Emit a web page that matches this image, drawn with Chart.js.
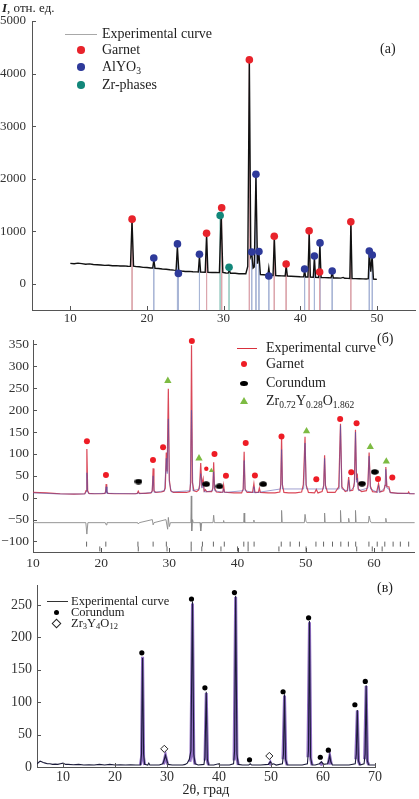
<!DOCTYPE html>
<html><head><meta charset="utf-8">
<script src="https://cdn.jsdelivr.net/npm/chart.js@4.4.0/dist/chart.umd.min.js"></script>
<style>
html,body{margin:0;padding:0;background:#fff;}
#wrap{position:relative;width:419px;height:799px;overflow:hidden;font-family:"Liberation Serif","Times New Roman",serif;color:#222;}
canvas{position:absolute;left:0;}
.t{position:absolute;white-space:nowrap;line-height:16px;font-size:14px;}
.s{line-height:12px;font-size:12.5px;}
.ln{position:absolute;height:0;}
.mk{position:absolute;}
sub{font-size:68%;vertical-align:-0.28em;line-height:0;}
</style></head><body>
<div id="wrap">
<canvas id="ca" width="419" height="330" style="top:0"></canvas>
<canvas id="cb" width="419" height="244" style="top:328px"></canvas>
<canvas id="cc" width="419" height="227" style="top:572px"></canvas>

<div class="t" style="left:2px;top:0px;font-size:13px;"><i><b>I</b></i>, отн. ед.</div>
<div class="ln" style="left:65px;top:34px;width:32px;border-top:1.5px solid #a8a8a8;"></div>
<div class="t" style="left:102px;top:26px;">Experimental curve</div>
<div class="mk" style="left:77px;top:46px;width:7.5px;height:7.5px;border-radius:50%;background:#e8232b;"></div>
<div class="t" style="left:102px;top:42px;">Garnet</div>
<div class="mk" style="left:77px;top:63px;width:7.5px;height:7.5px;border-radius:50%;background:#2e3a9a;"></div>
<div class="t" style="left:102px;top:59px;">AlYO<sub>3</sub></div>
<div class="mk" style="left:77px;top:81px;width:7.5px;height:7.5px;border-radius:50%;background:#12877a;"></div>
<div class="t" style="left:102px;top:77px;">Zr-phases</div>
<div class="t" style="left:380px;top:41px;">(a)</div>

<div class="ln" style="left:237px;top:348px;width:20px;border-top:1.5px solid #d8303c;"></div>
<div class="t" style="left:266px;top:340px;">Experimental curve</div>
<div class="mk" style="left:241px;top:361px;width:6px;height:6px;border-radius:50%;background:#ee1c25;"></div>
<div class="t" style="left:266px;top:356px;">Garnet</div>
<div class="mk" style="left:240px;top:380.5px;width:8px;height:5.5px;border-radius:50%;background:#000;"></div>
<div class="t" style="left:266px;top:375px;">Corundum</div>
<div class="mk" style="left:240px;top:397px;width:0;height:0;border-left:4px solid transparent;border-right:4px solid transparent;border-bottom:7px solid #7dbb42;"></div>
<div class="t" style="left:266px;top:393px;">Zr<sub>0.72</sub>Y<sub>0.28</sub>O<sub>1.862</sub></div>
<div class="t" style="left:377px;top:331px;">(б)</div>

<div class="ln" style="left:47px;top:601px;width:21px;border-top:1.5px solid #333;"></div>
<div class="t s" style="left:71px;top:595px;">Experimental curve</div>
<div class="mk" style="left:53.5px;top:609.5px;width:5px;height:5px;border-radius:50%;background:#000;"></div>
<div class="t s" style="left:71px;top:606px;">Corundum</div>
<div class="mk" style="left:53px;top:620px;width:5px;height:5px;border:1px solid #222;transform:rotate(45deg);background:#fff;"></div>
<div class="t s" style="left:71px;top:617px;">Zr<sub>3</sub>Y<sub>4</sub>O<sub>12</sub></div>
<div class="t" style="left:377px;top:580px;">(в)</div>
</div>
<script>
const FONT='"Liberation Serif","Times New Roman",serif';

// ---------- Panel (a) ----------
const xTicksA=[10,20,30,40,50];
const yTicksA=[0,1000,2000,3000,4000,5000];
const expA=[[10,388],[10.5,380],[11,392],[11.5,383],[12,372],[12.5,378],[13,365],[13.5,360],[14,356],[14.5,350],[15,352],[15.5,343],[16,345],[16.5,338],[17,340],[17.5,332],[17.85,330],[18.05,1205],[18.25,335],[18.6,325],[19,322],[19.5,312],[20,308],[20.5,300],[20.75,298],[20.9,455],[21.05,292],[21.5,290],[22,280],[22.5,275],[23,265],[23.5,258],[23.8,255],[23.97,710],[24.15,250],[24.5,242],[25,233],[25.5,235],[26,228],[26.5,225],[26.7,222],[26.85,520],[27.0,222],[27.6,218],[27.78,930],[27.95,218],[28.5,215],[29,216],[29.45,212],[29.68,1310],[29.9,215],[30.3,205],[30.6,202],[30.75,255],[30.9,200],[31.5,198],[32,190],[32.5,192],[32.9,190],[33.15,330],[33.36,4230],[33.55,520],[33.68,570],[33.85,300],[34.0,320],[34.22,2050],[34.42,380],[34.6,590],[34.8,175],[35.2,170],[35.6,165],[35.78,160],[35.9,300],[36.02,160],[36.45,158],[36.62,870],[36.8,155],[37.2,152],[37.6,150],[38.03,147],[38.17,340],[38.32,145],[38.8,142],[39.4,138],[40,132],[40.45,130],[40.57,260],[40.7,128],[41.0,127],[41.17,960],[41.32,126],[41.7,124],[41.85,500],[42.0,122],[42.4,120],[42.56,740],[42.72,118],[43.2,116],[43.7,114],[44.02,112],[44.17,215],[44.32,110],[44.8,108],[45.3,106],[45.6,120],[45.8,104],[46.2,102],[46.47,100],[46.61,1160],[46.76,100],[47.2,97],[47.7,95],[48.2,92],[48.6,90],[48.88,95],[49.01,610],[49.2,230],[49.38,530],[49.55,90],[49.8,86],[50,82]];
const garnetA=[[18.06,1229],[27.78,962],[29.75,1446],[33.36,4261],[36.61,904],[38.16,376],[41.16,1006],[42.53,223],[46.6,1178]];
const alyoA=[[20.89,490],[23.98,758],[24.1,197],[26.85,560],[33.67,605],[34.22,2083],[34.61,611],[35.9,146],[40.57,280],[41.85,529],[42.58,777],[44.17,242],[49.01,624],[49.4,548]];
const zrA=[[29.55,1299],[30.71,312]];

// ---------- Panel (б) ----------
const xTicksB=[10,20,30,40,50,60];
const yTicksB=[-100,-50,0,50,100,150,200,250,300,350];
const expB=[[10,12],[11,11.5],[12,11],[13,10],[14,9],[15,8.5],[16,8],[17,8.5],[17.6,9],[17.78,16],[17.9,111],[18.02,16],[18.2,10],[19,9],[20,9],[20.55,10],[20.65,14],[20.73,31],[20.82,14],[21,10],[22,9],[23,9],[24,9],[25,9],[25.3,10],[25.44,15],[25.58,10],[26.5,10],[27.3,11],[27.5,16],[27.62,67],[27.74,16],[28,12],[28.8,13],[29.2,15],[29.4,22],[29.55,103],[29.68,60],[29.85,249],[30.0,40],[30.2,16],[30.6,12],[31.5,12],[32.5,12],[33.0,14],[33.13,35],[33.25,348],[33.38,35],[33.6,16],[34.0,14],[34.3,18],[34.45,30],[34.6,79],[34.75,30],[34.95,43],[35.1,15],[35.3,18],[35.45,14],[36.2,14],[36.38,22],[36.5,81],[36.62,22],[36.9,13],[37.5,12],[37.85,13],[37.96,28],[38.08,13],[38.5,12],[39.5,11],[40.6,11],[40.83,20],[40.97,105],[41.1,20],[41.4,12],[42.2,12],[42.4,32],[42.55,12],[43.05,12],[43.2,22],[43.35,12],[44.5,11],[45.5,11],[46.2,13],[46.34,30],[46.46,140],[46.58,30],[46.8,12],[47.5,11],[48.5,11],[49.4,13],[49.65,30],[49.9,139],[50.05,30],[50.4,12],[51.3,11],[51.55,19],[51.8,11],[52.4,14],[52.64,28],[52.77,97],[52.9,28],[53.2,12],[54.3,12],[54.85,25],[55.1,169],[55.3,25],[55.8,14],[56.1,16],[56.3,47],[56.5,16],[56.9,17],[57.15,35],[57.3,155],[57.45,40],[57.56,55],[57.7,20],[58.2,14],[58.9,16],[59.12,30],[59.3,103],[59.48,26],[59.8,14],[60.4,13],[60.68,32],[60.9,13],[61.45,16],[61.63,28],[61.75,70],[61.9,25],[62.2,25],[62.4,12],[63.5,10],[64.5,10],[65.0,10],[65.1,13],[65.25,9],[66,9]];
const calcB=[[10,11],[14,8.5],[17.6,8.5],[17.8,14],[17.9,57],[18.0,14],[18.2,9],[20.6,10],[20.73,25],[20.85,10],[25.3,9],[25.44,12],[25.58,9],[27.45,12],[27.62,50],[27.78,12],[29.3,16],[29.55,90],[29.68,55],[29.85,180],[30.0,35],[30.3,13],[33.05,16],[33.25,200],[33.45,16],[34.4,20],[34.6,55],[34.8,22],[34.95,35],[35.15,13],[36.35,16],[36.5,60],[36.65,16],[37.85,12],[37.96,20],[38.1,12],[40.83,16],[40.97,85],[41.12,16],[42.28,12],[42.4,25],[42.53,11],[46.32,20],[46.46,110],[46.6,20],[49.7,20],[49.9,125],[50.1,20],[52.62,20],[52.77,90],[52.92,20],[54.9,20],[55.1,165],[55.3,20],[56.15,15],[56.3,40],[56.45,15],[57.12,25],[57.3,150],[57.48,35],[57.56,45],[57.75,16],[59.12,22],[59.3,95],[59.5,20],[60.55,12],[60.68,28],[60.82,12],[61.6,22],[61.75,65],[61.92,22],[62.2,20],[62.4,11],[66,9]];
const diffB=[[10,-57],[17.75,-57],[17.9,-83],[18.05,-57],[20.6,-57],[20.73,-62],[20.85,-57],[25.35,-57],[25.44,-60],[25.6,-57],[27.5,-50],[27.62,-62],[27.75,-57],[29.5,-50],[29.75,-72],[29.85,-45],[30.0,-66],[30.15,-57],[33.15,-57],[33.22,4],[33.28,-76],[33.4,-50],[33.5,-57],[34.5,-57],[34.6,-76],[34.75,-57],[36.4,-57],[36.5,-40],[36.6,-57],[37.9,-57],[37.96,-52],[38.02,-57],[40.9,-57],[40.97,-35],[41.05,-57],[42.35,-57],[42.4,-51],[42.45,-57],[46.4,-57],[46.46,-29],[46.55,-57],[49.8,-57],[49.9,-38],[50.05,-55],[50.2,-57],[52.7,-57],[52.77,-35],[52.85,-57],[55.05,-57],[55.1,-29],[55.2,-57],[56.25,-57],[56.3,-47],[56.4,-57],[57.25,-57],[57.3,-29],[57.4,-57],[59.2,-57],[59.3,-42],[59.45,-52],[59.6,-57],[61.7,-57],[61.75,-47],[61.85,-57],[66,-57]];
const braggB1=[17.86,20.68,25.39,27.62,29.56,33.2,34.85,36.46,38.06,40.92,41.55,42.43,46.41,47.72,49.08,51.5,52.62,53.93,55.15,56.26,57.33,59.27,60.49,61.6,62.82,63.88,65.1];
const braggB2=[19.8,25.44,29.66,33.2,34.76,37.57,40.0,41.55,46.07,50.05,57.48,59.76,61.21];
const garnetB=[[17.91,129],[20.7,52],[27.6,86],[29.08,115],[33.3,358],[36.62,100],[38.3,50],[41.2,125],[42.55,51],[46.45,140],[51.55,42],[55.05,180],[56.68,58],[57.46,170],[60.6,43],[62.7,46]];
const garnetBSmall=[[35.42,66]];
const corB=[[25.47,37],[35.4,31],[37.35,26],[43.76,31],[58.25,32],[60.12,59]];
const zrB=[[29.78,267],[34.35,90],[50.12,152],[59.47,116],[61.82,83]];
const zrBSmall=[[36.16,62]];

// ---------- Panel (в) ----------
const xTicksC=[10,20,30,40,50,60,70];
const yTicksC=[0,50,100,150,200,250];
const expC=[[5,5],[5.3,7],[5.6,9],[5.9,8],[6.2,7],[6.6,6],[7,5],[7.5,5],[8,4],[8.5,4.5],[9,4],[9.5,5],[10,6],[10.5,4],[11,4],[12,3.5],[13,4],[14,3],[15,3.5],[16,3],[17,4],[18,3],[19,4],[20,3],[21,3.5],[22,3],[23,3.5],[24,3],[24.9,3],[25.1,20],[25.3,168],[25.5,20],[25.7,4],[26.3,3],[26.5,6],[26.7,3],[27.5,3],[28.5,3],[29.2,5],[29.5,12],[29.7,18],[29.9,12],[30.2,4],[31,3],[32,3],[33,3],[33.5,4],[33.9,6],[34.3,12],[34.6,25],[34.9,255],[35.15,20],[35.4,5],[36,3],[37.1,4],[37.3,15],[37.55,116],[37.75,12],[38,3],[39,3],[39.9,5],[40.1,3],[41,3],[42,3],[42.8,5],[43.0,25],[43.2,264],[43.45,20],[43.7,4],[44.5,3],[45.7,3],[46.0,5],[46.3,3],[47,3],[48,3],[49.5,4],[49.87,8],[50.2,4],[50.5,5],[51,3],[52.2,5],[52.4,20],[52.6,112],[52.8,12],[53.1,3],[54,3],[55,3],[56,3],[57.0,5],[57.2,25],[57.4,225],[57.6,15],[57.9,3],[58.5,3],[59.3,5],[59.7,8],[60.1,4],[60.9,5],[61.1,10],[61.3,18],[61.5,8],[61.8,3],[63,3],[64,3],[65,3],[66.2,5],[66.4,20],[66.6,88],[66.8,10],[67.1,3],[67.9,5],[68.1,20],[68.3,126],[68.5,10],[68.8,3],[70,3]];
const fitC=[
 [[24.9,3],[25.1,15],[25.3,170],[25.5,15],[25.7,3]],
 [[29.3,4],[29.7,18],[30.1,4]],
 [[34.4,8],[34.6,18],[34.9,252],[35.15,15],[35.4,4]],
 [[37.3,10],[37.55,114],[37.8,8],[38,3]],
 [[42.9,10],[43.2,262],[43.45,15],[43.7,3]],
 [[49.6,3],[49.87,7],[50.1,3]],
 [[52.3,12],[52.6,110],[52.85,10],[53.1,3]],
 [[57.1,15],[57.4,223],[57.65,12],[57.9,3]],
 [[59.4,3],[59.7,6],[60.0,3]],
 [[61.0,4],[61.3,17],[61.6,4]],
 [[66.3,12],[66.6,87],[66.85,8],[67.1,3]],
 [[68.0,12],[68.3,125],[68.55,8],[68.8,3]]
];
const corC=[[25.16,176],[34.71,259],[37.29,122],[42.97,269],[45.87,11],[52.32,116],[57.23,230],[59.48,15],[61.03,26],[66.13,96],[68.13,132]];
const zrC=[[29.48,28],[49.68,17]];

// ---------- helpers ----------
const P=a=>a.map(([x,y])=>({x,y}));
function sticks(arr,bottom){const o=[];arr.forEach(([x,y])=>{o.push({x,y},{x,y:bottom},{x,y:null});});return o;}
function groups(g){const o=[];g.forEach(grp=>{grp.forEach(([x,y])=>o.push({x,y}));o.push({x:grp[grp.length-1][0]+0.01,y:null});});return o;}
function bragg(xs,y){return xs.map(x=>({x,y}));}
const fmt=v=>v<0?'\u2212'+Math.abs(v):String(v);
function line(data,color,w,order){return {data,showLine:true,borderColor:color,borderWidth:w,pointRadius:0,tension:0,spanGaps:false,order};}
function pts(data,color,r,style,order,extra){return Object.assign({data,showLine:false,pointRadius:r,pointHoverRadius:r,pointStyle:style||'circle',backgroundColor:color,borderColor:color,borderWidth:0,clip:false,order},extra||{});}

const inTicks={id:'inTicks',afterDraw(chart,args,opts){
  const ctx=chart.ctx,a=chart.chartArea,len=opts.len||4;
  ctx.save();ctx.strokeStyle='#555';ctx.lineWidth=1;
  const ys=chart.scales.y,xs=chart.scales.x;
  ys.ticks.forEach(t=>{const p=Math.round(ys.getPixelForValue(t.value))+0.5;ctx.beginPath();ctx.moveTo(a.left,p);ctx.lineTo(a.left+len,p);ctx.stroke();});
  xs.ticks.forEach(t=>{const p=Math.round(xs.getPixelForValue(t.value))+0.5;ctx.beginPath();ctx.moveTo(p,a.bottom);ctx.lineTo(p,a.bottom-len);ctx.stroke();});
  ctx.restore();}};

function scales(o){
  return {
    x:{type:'linear',min:o.xmin,max:o.xmax,grid:{display:false,drawTicks:false},border:{display:true,color:'#555',width:1},
       ticks:{color:'#333',font:{family:FONT,size:o.fs},padding:o.xpad,maxRotation:0,autoSkip:false,callback:fmt},
       afterBuildTicks:s=>{s.ticks=o.xt.map(v=>({value:v}));},
       afterFit:s=>{s.height=o.xh;},
       title:o.title?{display:true,text:o.title,color:'#222',font:{family:FONT,size:14},padding:0}:{display:false}},
    y:{type:'linear',min:o.ymin,max:o.ymax,grid:{display:false,drawTicks:false},border:{display:true,color:'#555',width:1},
       ticks:{color:'#333',font:{family:FONT,size:o.fs},padding:o.ypad,autoSkip:false,callback:fmt},
       afterBuildTicks:s=>{s.ticks=o.yt.map(v=>({value:v}));},
       afterFit:s=>{s.width=o.yw;}}
  };
}
function base(pad){return {responsive:false,animation:false,devicePixelRatio:1,events:[],
  layout:{padding:pad},plugins:{legend:{display:false},tooltip:{enabled:false},inTicks:{len:4}}};}

// ellipse marker for corundum (б)
const ell=document.createElement('canvas');ell.width=8;ell.height=6;
(function(){const c=ell.getContext('2d');c.fillStyle='#000';c.beginPath();c.ellipse(4,3,3.8,2.8,0,0,Math.PI*2);c.fill();})();

// Chart (a)
new Chart(document.getElementById('ca'),{type:'scatter',
 data:{datasets:[
  line(sticks(garnetA,-500),'#dca6ad',1,5),
  line(sticks(alyoA,-500),'#a9b6d6',1,5),
  line(sticks(zrA,-500),'#9fcfc6',1,5),
  line(P(expA),'#111',1.4,4),
  pts(P(garnetA),'#e8232b',3.8,'circle',1),
  pts(P(alyoA),'#2e3a9a',3.8,'circle',1),
  pts(P(zrA),'#12877a',3.8,'circle',1)
 ]},
 options:Object.assign(base({top:21,left:0,right:0,bottom:0}),{scales:scales({xmin:5,xmax:55,ymin:-500,ymax:5000,xt:xTicksA,yt:yTicksA,fs:13,xpad:1,ypad:6,xh:20,yw:32})}),
 plugins:[inTicks]});

// Chart (б)
new Chart(document.getElementById('cb'),{type:'scatter',
 data:{datasets:[
  line(P(diffB),'#8a8a8a',0.9,6),
  pts(bragg(braggB1,-106),'#666',2.5,'line',6,{rotation:90,borderWidth:1}),
  pts(bragg(braggB2,-117),'#666',2.5,'line',6,{rotation:90,borderWidth:1}),
  line(P(expB),'rgba(214,52,70,0.9)',1.2,5),
  line(P(calcB),'rgba(80,80,170,0.55)',1,4),
  pts(P(garnetB),'#ee1c25',3,'circle',1),
  pts(P(garnetBSmall),'#ee1c25',2.2,'circle',1),
  pts(P(corB),'#000',3,ell,1),
  pts(P(zrB),'#7dbb42',4.2,'triangle',1),
  pts(P(zrBSmall),'#7dbb42',2.8,'triangle',1)
 ]},
 options:Object.assign(base({top:6.5,left:0,right:0,bottom:0}),{scales:scales({xmin:10,xmax:66,ymin:-124,ymax:360,xt:xTicksB,yt:yTicksB,fs:13.5,xpad:3,ypad:4,xh:20,yw:33})}),
 plugins:[inTicks]});

// Chart (в)
new Chart(document.getElementById('cc'),{type:'scatter',
 data:{datasets:[
  line(groups(fitC),'rgba(125,85,185,0.85)',3,5),
  line(P(expC),'#1b1b3a',1.1,4),
  pts(P(corC),'#000',2.6,'circle',1),
  pts(P(zrC),'#fff',3.6,'rectRot',1,{borderColor:'#222',borderWidth:1})
 ]},
 options:Object.assign(base({top:9,left:0,right:44,bottom:0}),{scales:scales({xmin:5,xmax:70,ymin:0,ymax:280,xt:xTicksC,yt:yTicksC,fs:14,xpad:2,ypad:5,xh:32,yw:37,title:'2\u03b8, град'})}),
 plugins:[inTicks]});
</script>
</body></html>
